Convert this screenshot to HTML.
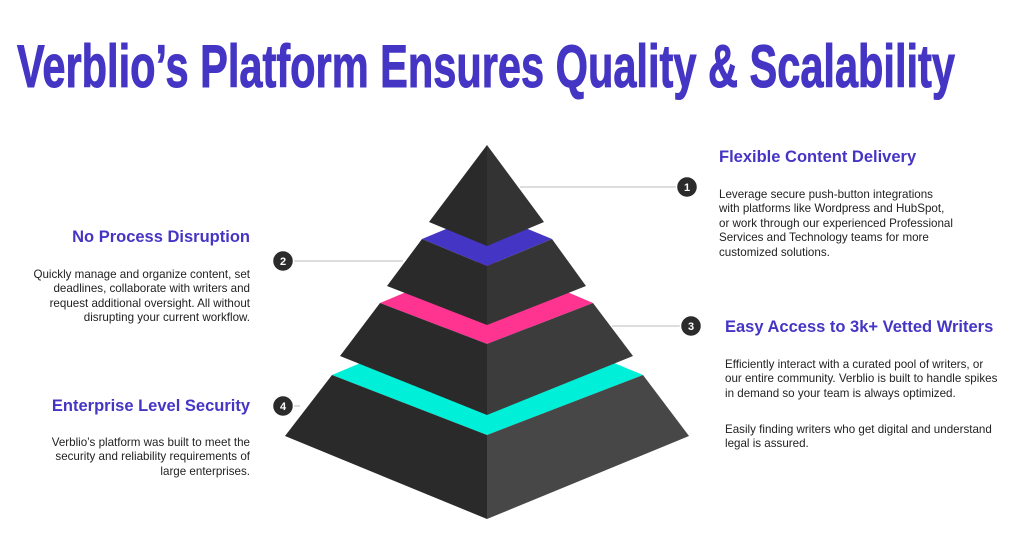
<!DOCTYPE html>
<html><head><meta charset="utf-8"><style>
body{margin:0;width:1024px;height:534px;background:#fff;position:relative;overflow:hidden;font-family:"Liberation Sans",sans-serif}
.t{position:absolute;left:17px;top:32px;font-family:"Liberation Sans Narrow","Liberation Sans",sans-serif;font-weight:bold;font-size:60px;color:#4535c4;-webkit-text-stroke:1px #4535c4;white-space:nowrap;line-height:70px;transform-origin:0 0}
.h{position:absolute;font-weight:bold;font-size:16.5px;color:#4535c4;line-height:20px;white-space:nowrap}
.p{position:absolute;font-size:11.6px;color:#222;line-height:14.4px;white-space:nowrap}
.r{text-align:right}
</style></head><body>
<div class="t" id="tt">Verblio’s Platform Ensures Quality &amp; Scalability</div>
<svg width="1024" height="534" style="position:absolute;left:0;top:0">
<g stroke="#bbb" stroke-width="1">
<line x1="520" y1="187" x2="687" y2="187"/>
<line x1="283" y1="261" x2="403" y2="261"/>
<line x1="612" y1="326" x2="691" y2="326"/>
<line x1="283" y1="406" x2="300" y2="406"/>
</g>
<polygon points="332,375 487,310 643,375 487,435" fill="#00efd8"/>
<polygon points="332,375 487,435 487,519 285,436" fill="#2a2a2a"/>
<polygon points="487,435 643,375 689,436 487,519" fill="#474747"/>
<polygon points="380,303 487,258 593,303 487,344" fill="#ff3390"/>
<polygon points="380,303 487,344 487,415 340,356" fill="#2a2a2a"/>
<polygon points="487,344 593,303 633,356 487,415" fill="#3c3c3c"/>
<polygon points="422,239 487,212 552,239 487,266" fill="#4535c4"/>
<polygon points="422,239 487,266 487,325 387,286" fill="#2a2a2a"/>
<polygon points="487,266 552,239 586,286 487,325" fill="#353535"/>
<polygon points="487,145 487,246 429,222" fill="#2a2a2a"/>
<polygon points="487,145 544,222 487,246" fill="#333"/>
<g fill="#2b2b2b" stroke="#fff" stroke-width="1.5">
<circle cx="687" cy="187" r="10.5"/><circle cx="283" cy="261" r="10.5"/>
<circle cx="691" cy="326" r="10.5"/><circle cx="283" cy="406" r="10.5"/>
</g>
<g fill="#fff" font-family="Liberation Sans" font-weight="bold" font-size="11" text-anchor="middle">
<text x="687" y="191">1</text><text x="283" y="265">2</text><text x="691" y="330">3</text><text x="283" y="410">4</text>
</g>
</svg>
<div class="h" style="left:719px;top:147px">Flexible Content Delivery</div>
<div class="p" style="left:719px;top:188px">Leverage secure push-button integrations<br>with platforms like Wordpress and HubSpot,<br>or work through our experienced Professional<br>Services and Technology teams for more<br>customized solutions.</div>
<div class="h r" style="right:774px;top:227px">No Process Disruption</div>
<div class="p r" style="right:774px;top:268px">Quickly manage and organize content, set<br>deadlines, collaborate with writers and<br>request additional oversight. All without<br>disrupting your current workflow.</div>
<div class="h" style="left:725px;top:317px">Easy Access to 3k+ Vetted Writers</div>
<div class="p" style="left:725px;top:358px">Efficiently interact with a curated pool of writers, or<br>our entire community. Verblio is built to handle spikes<br>in demand so your team is always optimized.</div>
<div class="p" style="left:725px;top:423px">Easily finding writers who get digital and understand<br>legal is assured.</div>
<div class="h r" style="right:774px;top:396px">Enterprise Level Security</div>
<div class="p r" style="right:774px;top:436px">Verblio’s platform was built to meet the<br>security and reliability requirements of<br>large enterprises.</div>
<script>
var t=document.getElementById('tt');var w=t.getBoundingClientRect().width;t.style.transform='scaleX('+(938/w)+')';
</script>
</body></html>
